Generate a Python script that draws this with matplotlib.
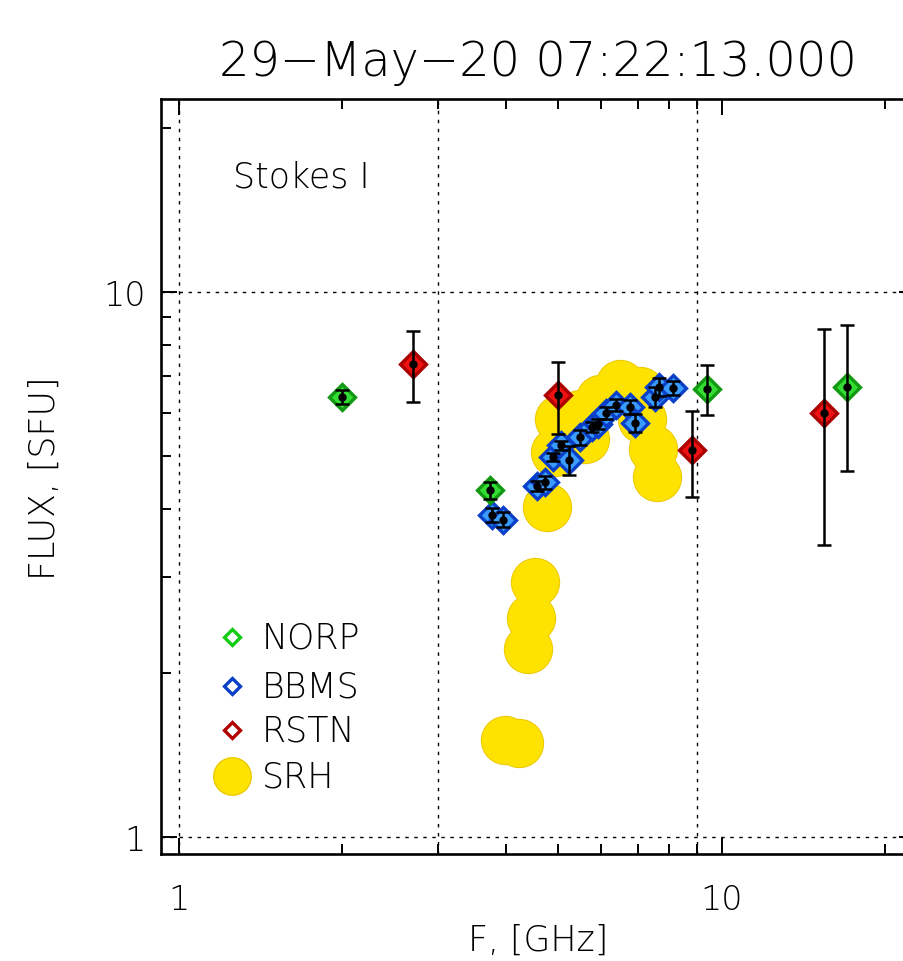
import matplotlib
matplotlib.use('Agg')
import matplotlib.pyplot as plt
from matplotlib import ticker

# ---- data ----
title = '29\u2212May\u221220 07:22:13.000'

norp_f = [2.0, 3.75, 9.4, 17.0]
norp_flux = [6.42, 4.33, 6.64, 6.69]
norp_err = [0.2, 0.16, 0.7, 2.0]

rstn_f = [2.7, 5.0, 8.8, 15.4]
rstn_flux = [7.38, 6.47, 5.13, 6.0]
rstn_err = [1.1, 0.97, 0.93, 2.56]

bbms_f = [3.77, 3.95, 4.56, 4.72, 4.89, 5.05, 5.23, 5.48, 5.76, 5.91,
          6.11, 6.38, 6.77, 6.92, 7.53, 7.66, 8.12]
bbms_flux = [3.90, 3.82, 4.41, 4.48, 4.98, 5.24, 4.92, 5.42, 5.65, 5.73,
             6.00, 6.21, 6.15, 5.75, 6.42, 6.69, 6.66]
bbms_err = [0.12, 0.12, 0.1, 0.12, 0.09, 0.1, 0.3, 0.17, 0.12, 0.12,
            0.15, 0.15, 0.18, 0.22, 0.28, 0.25, 0.2]

srh_f = [3.98, 4.24, 4.39, 4.45, 4.52, 4.76, 4.93, 5.02, 5.48, 5.6,
         5.96, 6.49, 7.06, 7.14, 7.47, 7.59]
srh_flux = [1.51, 1.49, 2.21, 2.52, 2.94, 4.03, 5.09, 5.84, 5.98, 5.37,
            6.36, 6.77, 6.58, 5.84, 5.16, 4.58]

legend_names = ['NORP', 'BBMS', 'RSTN', 'SRH']

plt.rcParams['font.family'] = ['DejaVu Sans']
plt.rcParams['font.weight'] = 'light'

W, H = 904, 962
fig = plt.figure(figsize=(W / 100., H / 100.), dpi=100)
ax = fig.add_axes([161. / W, 1 - 855. / H, 754. / W, 755. / H])

ax.set_xscale('log')
ax.set_yscale('log')
ax.set_xlim(0.927, 22.7)
ax.set_ylim(0.931, 22.6)

# dotted grid like the IDL plot
for v in [1, 3, 9]:
    ax.axvline(v, color='k', lw=1.0, ls=(0, (2.5, 4)), zorder=1)
for v in [1, 10]:
    ax.axhline(v, color='k', lw=1.0, ls=(0, (2.5, 4)), zorder=1)

# SRH big yellow blobs: darker rim underneath, plain fill on top
ax.plot(srh_f, srh_flux, 'o', ms=35.5, mfc='#ecc900', mec='none',
        ls='none', zorder=2)
ax.plot(srh_f, srh_flux, 'o', ms=34, mfc='#ffe300', mec='none',
        ls='none', zorder=2)

def diamonds(f, flux, err, fc, ec):
    ax.plot(f, flux, 'D', ms=13.5, mfc=fc, mec=ec, mew=2.4, ls='none',
            zorder=3)
    ax.errorbar(f, flux, yerr=err, fmt='o', ms=5, color='k', ecolor='k',
                elinewidth=1.8, capsize=5, capthick=1.8, zorder=4)

diamonds(bbms_f, bbms_flux, bbms_err, '#3a9cff', '#0a3fc8')
diamonds(norp_f, norp_flux, norp_err, '#33dd33', '#119911')
diamonds(rstn_f, rstn_flux, rstn_err, '#ee1111', '#aa0000')

# axes cosmetics
for s in ax.spines.values():
    s.set_linewidth(1.9)
ax.tick_params(which='both', direction='in', top=True, right=True,
               labelsize=24, width=1.4)
ax.tick_params(which='major', length=11.5)
ax.tick_params(which='minor', length=7)
ax.tick_params(axis='x', which='major', pad=21)
ax.tick_params(axis='y', which='major', pad=11)
ax.xaxis.set_major_locator(ticker.FixedLocator([1, 10]))
ax.yaxis.set_major_locator(ticker.FixedLocator([1, 10]))
ax.xaxis.set_major_formatter(ticker.FixedFormatter(['1', '10']))
ax.yaxis.set_major_formatter(ticker.FixedFormatter(['1', '10']))
ax.xaxis.set_minor_locator(ticker.LogLocator(base=10, subs=range(2, 10)))
ax.yaxis.set_minor_locator(ticker.LogLocator(base=10, subs=range(2, 10)))
ax.xaxis.set_minor_formatter(ticker.NullFormatter())
ax.yaxis.set_minor_formatter(ticker.NullFormatter())

ax.text(0.0955, 0.897, 'Stokes I', transform=ax.transAxes, fontsize=25,
        va='center', ha='left')

# legend drawn by hand, IDL style
leg_y = [0.287, 0.222, 0.164, 0.103]
leg_style = [dict(marker='D', ms=8, mfc='none', mec='#11cc11', mew=2.4),
             dict(marker='D', ms=8, mfc='none', mec='#0a3fc8', mew=2.4),
             dict(marker='D', ms=8, mfc='none', mec='#b00000', mew=2.4),
             dict(marker='o', ms=27, mfc='#ffe300', mec='#ecc900', mew=1.0)]
for name, yy, st in zip(legend_names, leg_y, leg_style):
    ax.plot([0.094], [yy], transform=ax.transAxes, ls='none', zorder=5, **st)
    ax.text(0.134, yy, name, transform=ax.transAxes, fontsize=25,
            va='center', ha='left')

fig.text(538. / W, 1 - 62. / H, title, fontsize=34.5, ha='center',
         va='center')
fig.text(538. / W, 1 - 941. / H, 'F, [GHz]', fontsize=25, ha='center',
         va='center')
fig.text(45. / W, 1 - 478. / H, 'FLUX, [SFU]', fontsize=25, ha='center',
         va='center', rotation=90)

fig.savefig('out.png', dpi=100)
